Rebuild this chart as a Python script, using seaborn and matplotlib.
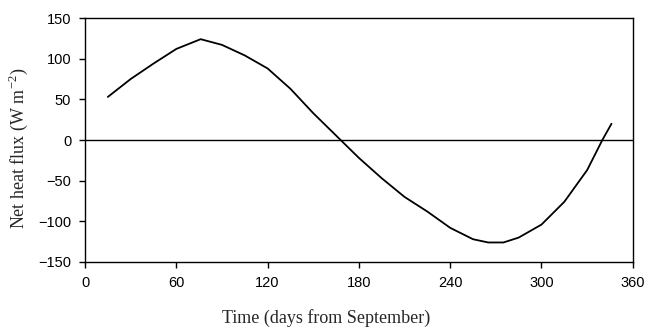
import matplotlib
matplotlib.use("Agg")
import matplotlib.pyplot as plt
import seaborn as sns
import pandas as pd

days = [15, 30, 45, 60, 76, 90, 105, 120, 135, 150, 168, 180, 195, 210, 225, 240, 255, 265, 275, 285, 300, 315, 330, 340, 346]
flux = [53, 75, 94, 112, 124, 117, 104, 88, 63, 33, 0, -22, -47, -70, -88, -108, -122, -126, -126, -120, -104, -76, -37, 0, 20]
xticks = [0, 60, 120, 180, 240, 300, 360]
yticks = [-150, -100, -50, 0, 50, 100, 150]

df = pd.DataFrame({"day": days, "flux": flux})

sns.set_style("ticks")
plt.rcParams['font.family'] = ['Liberation Sans', 'DejaVu Sans']
plt.rcParams['mathtext.fontset'] = 'custom'
plt.rcParams['mathtext.rm'] = 'Liberation Serif'

fig = plt.figure(figsize=(6.49, 3.31), dpi=100)
ax = fig.add_axes([0.131, 0.2085, 0.844, 0.737])
ax.axhline(0, color="black", lw=1.0, zorder=1)
sns.lineplot(data=df, x="day", y="flux", ax=ax, color="black", lw=1.3, zorder=2)

ax.set_xlim(0, 360)
ax.set_ylim(-150, 150)
ax.set_xticks(xticks)
ax.set_yticks(yticks)
ax.tick_params(direction="out", length=4, width=1, labelsize=10.5, colors="black", pad=6)
for s in ax.spines.values():
    s.set_visible(True)
    s.set_color("black")
    s.set_linewidth(1.0)

ax.set_xlabel("Time (days from September)", family="Liberation Serif", fontsize=13, va="center")
ax.xaxis.set_label_coords(0.44, -0.2295)
ax.set_ylabel("Net heat flux (W m$^{\\mathregular{-2}}$)", family="Liberation Serif", fontsize=13, va="center")
ax.yaxis.set_label_coords(-0.1223, 0.467)

fig.savefig("out.png", dpi=100)
